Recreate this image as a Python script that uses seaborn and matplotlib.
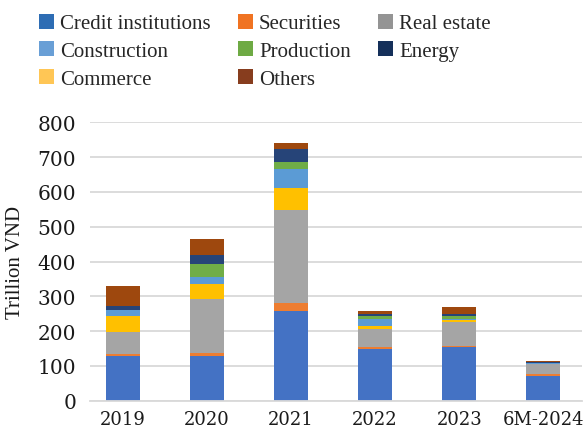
import matplotlib
matplotlib.use("Agg")
import matplotlib.pyplot as plt
import seaborn as sns
import pandas as pd
import numpy as np
from matplotlib.patches import Patch

categories = ["2019", "2020", "2021", "2022", "2023", "6M-2024"]
credit = [128, 129, 259, 149, 155, 72]
securities = [6, 9, 21, 4, 1, 5]
real_estate = [62, 155, 268, 52, 69, 28]
commerce = [47, 42, 63, 10, 6, 1]
construction = [17, 21, 54, 21, 4, 2]
production = [2, 38, 22, 8, 8, 1]
energy = [9, 25, 37, 4, 5, 2]
others = [59, 46, 16, 9, 20, 3]

series = [
    ("Credit institutions", credit, "#4472C4"),
    ("Securities", securities, "#ED7D31"),
    ("Real estate", real_estate, "#A5A5A5"),
    ("Commerce", commerce, "#FFC000"),
    ("Construction", construction, "#5B9BD5"),
    ("Production", production, "#70AD47"),
    ("Energy", energy, "#264478"),
    ("Others", others, "#9E480E"),
]

sns.set_theme(style="white")
plt.rcParams["font.family"] = ["DejaVu Serif"]

fig = plt.figure(figsize=(5.84, 4.31), dpi=100)
ax = fig.add_axes([90 / 584, (431 - 401.7) / 431, (582 - 90) / 584, (401.7 - 123.3) / 431])

cum = np.cumsum(np.array([s[1] for s in series], dtype=float), axis=0)
for i in range(len(series) - 1, -1, -1):
    name, vals, color = series[i]
    df = pd.DataFrame({"cat": categories, "val": cum[i]})
    sns.barplot(data=df, x="cat", y="val", color=color, width=0.4,
                edgecolor="none", linewidth=0, ax=ax, saturation=1, zorder=2)

ax.set_ylim(0, 800)
ax.set_xlim(-0.39, 5.46)
ax.set_yticks(range(0, 801, 100))
ax.yaxis.grid(True, color="#D9D9D9", linewidth=1.3, zorder=0)
ax.set_axisbelow(True)
for sp in ["top", "right", "left"]:
    ax.spines[sp].set_visible(False)
ax.spines["bottom"].set_color("#D9D9D9")
ax.spines["bottom"].set_linewidth(1.3)
ax.tick_params(axis="x", length=0, labelsize=13, colors="#1a1a1a", pad=7)
ax.tick_params(axis="y", length=0, labelsize=14.5, colors="#1a1a1a", pad=10)
ax.set_xlabel("")
ax.set_ylabel("Trillion VND", fontsize=15, family="Liberation Serif", color="#1a1a1a", labelpad=9)

# legend: rows as in reference
leg_order = ["Credit institutions", "Construction", "Commerce",
             "Securities", "Production", "Others",
             "Real estate", "Energy"]
legend_colors = {"Credit institutions": "#2E6DB4", "Securities": "#F07322",
                 "Real estate": "#949494", "Construction": "#699FD6",
                 "Production": "#6EAA44", "Energy": "#15305A",
                 "Commerce": "#FFC655", "Others": "#873D1E"}
handles = [Patch(facecolor=legend_colors[n], edgecolor="none", label=n) for n in leg_order]
fig.legend(handles=handles, ncol=3, loc="upper left", bbox_to_anchor=(0.045, 0.995),
           frameon=False, prop={"family": "Liberation Serif", "size": 15},
           handlelength=0.72, handleheight=0.72, handletextpad=0.3,
           columnspacing=1.3, labelspacing=0.38, borderaxespad=0.2)

fig.savefig("out.png", dpi=100)
